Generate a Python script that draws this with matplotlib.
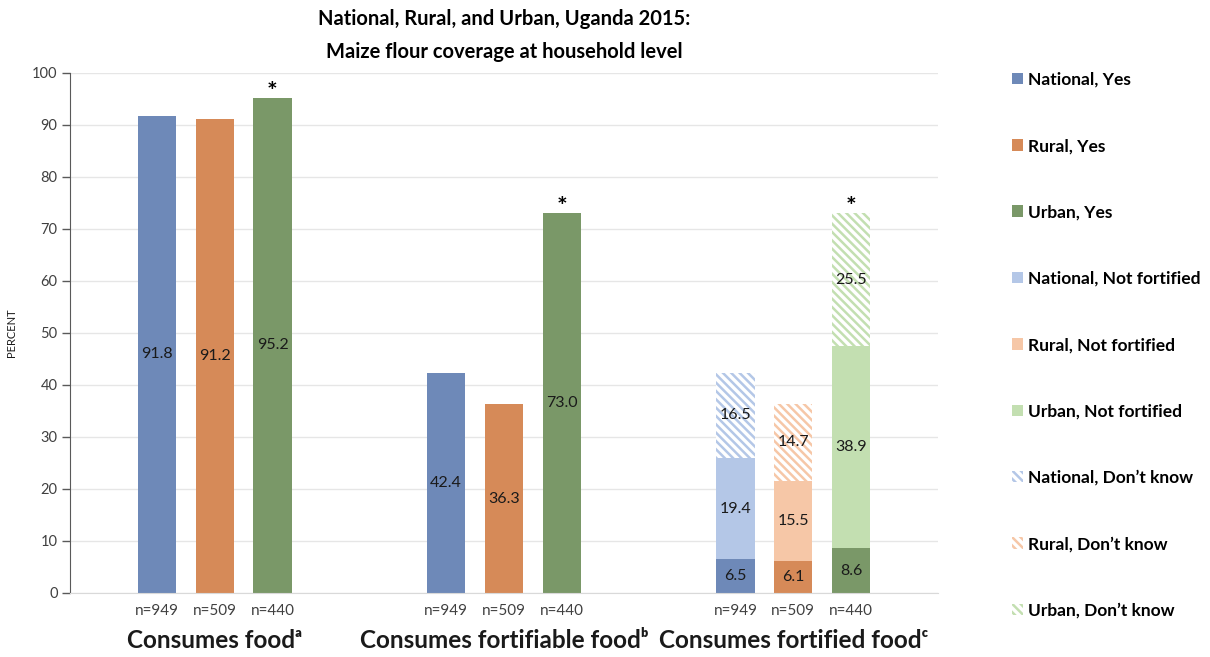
import matplotlib
matplotlib.use('Agg')
import matplotlib.pyplot as plt
from matplotlib.transforms import blended_transform_factory
import numpy as np

plt.rcParams['font.family'] = ['Lato', 'DejaVu Sans']
plt.rcParams['hatch.linewidth'] = 1.8

categories = ['Consumes food', 'Consumes fortifiable food', 'Consumes fortified food']
superscripts = ['\u1d43', '\u1d47', '\u1d9c']
areas = ['National', 'Rural', 'Urban']
n_sizes = [949, 509, 440]

# "Yes" values per category
national_yes = [91.8, 42.4, 6.5]
rural_yes = [91.2, 36.3, 6.1]
urban_yes = [95.2, 73.0, 8.6]

# last category only: split of fortifiable food
national_not_fortified = 19.4
rural_not_fortified = 15.5
urban_not_fortified = 38.9
national_dont_know = 16.5
rural_dont_know = 14.7
urban_dont_know = 25.5

dark = ['#6E89B8', '#D68A58', '#7A9868']
light = ['#B4C7E7', '#F6C7A7', '#C3DFB1']

yes_vals = [national_yes, rural_yes, urban_yes]
not_fort = [national_not_fortified, rural_not_fortified, urban_not_fortified]
dont_know = [national_dont_know, rural_dont_know, urban_dont_know]

fig = plt.figure(figsize=(12.1, 6.57), dpi=100)
ax = fig.add_axes([70 / 1210, 1 - 593 / 657, 868 / 1210, 520 / 657])

x = np.arange(len(categories))
w = 0.132
offsets = [-0.2, 0.0, 0.2]
lab_fs = 11.5

h_yes, h_nf, h_dk = [], [], []
for i, area in enumerate(areas):
    xs = x + offsets[i]
    b = ax.bar(xs, yes_vals[i], w, color=dark[i], zorder=2)
    h_yes.append(b)
    for xx, v in zip(xs, yes_vals[i]):
        ax.text(xx, v / 2, f'{v:.1f}', ha='center', va='center', fontsize=lab_fs, color='#1a1a1a', zorder=4)
    # stacked segments on the last category
    xl = x[-1] + offsets[i]
    base = yes_vals[i][-1]
    b2 = ax.bar(xl, not_fort[i], w, bottom=base, color=light[i], zorder=2)
    h_nf.append(b2)
    ax.text(xl, base + not_fort[i] / 2, f'{not_fort[i]:.1f}', ha='center', va='center',
            fontsize=lab_fs, color='#1a1a1a', zorder=4)
    base2 = base + not_fort[i]
    b3 = ax.bar(xl, dont_know[i], w, bottom=base2, facecolor='white', edgecolor=light[i],
                hatch='\\\\\\\\', linewidth=0, zorder=2)
    h_dk.append(b3)
    ax.text(xl, base2 + dont_know[i] / 2, f'{dont_know[i]:.1f}', ha='center', va='center',
            fontsize=lab_fs, color='#1a1a1a', zorder=4)

# significance markers over urban bars
urban_tops = [urban_yes[0], urban_yes[1], urban_yes[2] + urban_not_fortified + urban_dont_know]
for j, top in enumerate(urban_tops):
    ax.text(x[j] + offsets[2], top - 0.3, '*', ha='center', va='baseline', fontsize=18, fontweight='bold')

ax.set_xlim(-0.5, 2.5)
ax.set_ylim(0, 100)
ax.set_yticks(range(0, 101, 10))
ax.tick_params(axis='y', labelsize=10.5, labelcolor='#404040', color='#595959', length=6, width=1, pad=3)
ax.set_xticks([])
ax.yaxis.grid(True, color='#E6E6E6', linewidth=1, zorder=0)
ax.set_axisbelow(True)
for s in ['top', 'right']:
    ax.spines[s].set_visible(False)
ax.spines['left'].set_color('#595959')
ax.spines['bottom'].set_color('#D9D9D9')
ax.set_ylabel('PERCENT', fontsize=8, color='#1a1a1a', labelpad=11)

trans = blended_transform_factory(ax.transData, ax.transAxes)
for j, cat in enumerate(categories):
    for i in range(3):
        ax.text(x[j] + offsets[i], -0.034, f'n={n_sizes[i]}', transform=trans, ha='center', va='center',
                fontsize=11, color='#404040')
    ax.text(x[j], -0.092, cat + superscripts[j], transform=trans, ha='center', va='center',
            fontsize=17.5, fontweight='bold', color='#1a1a1a')

ax.set_title('National, Rural, and Urban, Uganda 2015:\nMaize flour coverage at household level',
             fontsize=14.5, fontweight='bold', pad=11, linespacing=1.8)

handles = h_yes + h_nf + h_dk
labels = [f'{a}, Yes' for a in areas] + [f'{a}, Not fortified' for a in areas] + \
         [f'{a}, Don\u2019t know' for a in areas]
fig.legend(handles, labels, loc='upper left', bbox_to_anchor=(1003 / 1210, 1 - 63 / 657),
           frameon=False, prop={'weight': 'bold', 'size': 12.5}, handlelength=0.65, handleheight=0.65,
           handletextpad=0.3, labelspacing=2.9, borderpad=0)

fig.savefig('out.png', dpi=100)
